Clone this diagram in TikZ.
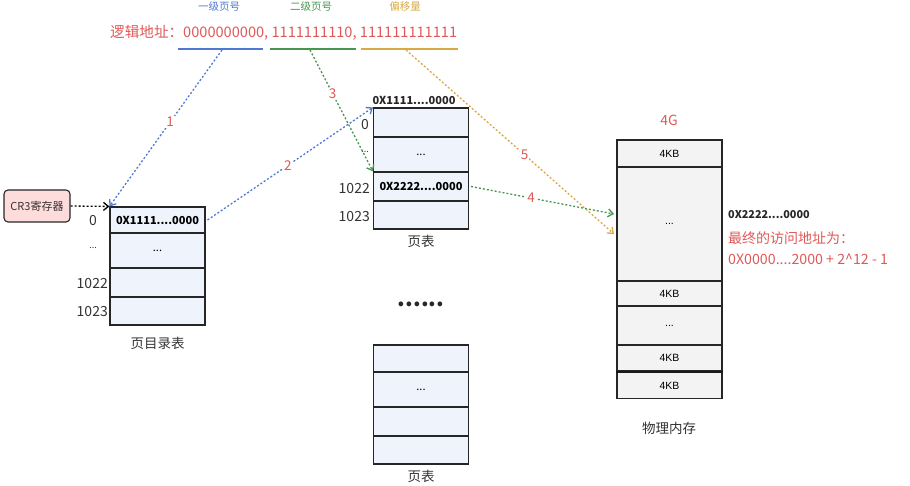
\documentclass[tikz,border=0pt]{standalone}
\usepackage{fontspec}
\setmainfont{Noto Sans CJK SC}
\newfontfamily\arialf{Liberation Sans}
\usetikzlibrary{arrows.meta}
\definecolor{cred}{RGB}{224,88,88}
\definecolor{cblue}{RGB}{80,120,210}
\definecolor{cgreen}{RGB}{70,150,80}
\definecolor{corange}{RGB}{215,170,70}
\definecolor{cellfill}{RGB}{238,243,252}
\definecolor{memfill}{RGB}{243,243,243}
\definecolor{crfill}{RGB}{255,220,220}
\tikzset{
  cell/.style={draw=black!85, line width=1.1pt, fill=cellfill, inner sep=0pt, minimum width=95pt, font=\fontsize{11}{13}\selectfont\bfseries},
  memcell/.style={draw=black!85, line width=1.1pt, fill=memfill, inner sep=0pt, minimum width=105pt, font=\arialf\fontsize{10.5}{12}\selectfont},
  rowlab/.style={anchor=east, inner sep=0pt, font=\fontsize{14}{16}\selectfont, text=black!80},
  captext/.style={font=\fontsize{13.5}{16}\selectfont, text=black!80},
  conn/.style={line width=1.3pt, dash pattern=on 2pt off 2pt, -{Straight Barb[length=5pt,width=8pt]}},
  numlab/.style={fill=white, inner sep=1pt, text=cred, font=\fontsize{13.5}{15}\selectfont},
}
\begin{document}
\begin{tikzpicture}[x=1pt,y=-1pt]
\useasboundingbox (0,0) rectangle (910,486);
% header text
\node[anchor=base west, inner sep=0pt, text=cred, font=\fontsize{14.6}{17}\selectfont] (addr) at (110,38) {逻辑地址：0000000000, 1111111110, 111111111111};
\node[text=cblue, font=\fontsize{10.5}{12}\selectfont] (h1) at (219,7) {一级页号};
\node[text=cgreen, font=\fontsize{10.5}{12}\selectfont] (h2) at (311,7) {二级页号};
\node[text=corange, font=\fontsize{10.5}{12}\selectfont] (h3) at (405,7) {偏移量};
\coordinate (u1a) at (178,49); \coordinate (u1b) at (263,49);
\coordinate (u2a) at (270,49); \coordinate (u2b) at (356,49);
\coordinate (u3a) at (361,49); \coordinate (u3b) at (458,49);
\draw[cblue, line width=1.2pt] (u1a) -- (u1b);
\draw[cgreen, line width=1.2pt] (u2a) -- (u2b);
\draw[corange, line width=1.2pt] (u3a) -- (u3b);
\coordinate (s1) at (222,50);
\coordinate (s3) at (310,50);
\coordinate (s5) at (406,50);
% CR3
\node[draw=black!85, line width=1.1pt, rounded corners=4pt, fill=crfill, minimum width=66pt, minimum height=32pt, inner sep=0pt, font=\fontsize{11}{13}\selectfont, text=black!80] (cr3) at (37,206) {CR3寄存器};
% page directory
\node[cell, minimum height=26pt] (pd0) at (157.5,220) {0X1111....0000};
\node[cell, minimum height=35pt] (pd1) at (157.5,250.5) {\mdseries ...};
\node[cell, minimum height=29pt] (pd2) at (157.5,282.5) {};
\node[cell, minimum height=28pt] (pd3) at (157.5,311) {};
\node[rowlab] (pdl0) at (97,221) {0};
\node[rowlab, font=\fontsize{9}{11}\selectfont] (pdl1) at (97,248) {...};
\node[rowlab] (pdl2) at (108,284) {1022};
\node[rowlab] (pdl3) at (108,312) {1023};
\node[captext] (pdcap) at (157.5,343) {页目录表};
% page table 1
\node[cell, minimum height=29pt] (pt0) at (421,122.5) {};
\node[cell, minimum height=35pt] (pt1) at (421,154.5) {\mdseries ...};
\node[cell, minimum height=29pt] (pt2) at (421,186.5) {0X2222....0000};
\node[cell, minimum height=28pt] (pt3) at (421,215) {};
\node[font=\fontsize{11}{13}\selectfont\bfseries, text=black!85] (pttop) at (414,100) {0X1111....0000};
\node[rowlab] (ptl0) at (369,125) {0};
\node[rowlab, font=\fontsize{9}{11}\selectfont] (ptl1) at (369,152) {...};
\node[rowlab] (ptl2) at (370,189) {1022};
\node[rowlab] (ptl3) at (370,217) {1023};
\node[captext] (ptcap) at (421,241) {页表};
% dots
\node[anchor=base, font=\fontsize{22}{24}\selectfont\bfseries, text=black!85] (dots) at (421,306) {......};
% page table 2
\node[cell, minimum height=27pt] (pq0) at (421,358.5) {};
\node[cell, minimum height=35pt] (pq1) at (421,389.5) {\mdseries ...};
\node[cell, minimum height=29pt] (pq2) at (421,421.5) {};
\node[cell, minimum height=28pt] (pq3) at (421,450) {};
\node[captext] (pqcap) at (421,476) {页表};
% memory
\node[text=cred, font=\fontsize{14}{16}\selectfont] (g4) at (669,120) {4G};
\node[memcell, minimum height=27pt] (m0) at (669.5,153.5) {4KB};
\node[memcell, minimum height=114pt] (m1) at (669.5,224) {...};
\node[memcell, minimum height=25pt] (m2) at (669.5,293.5) {4KB};
\node[memcell, minimum height=39pt] (m3) at (669.5,325.5) {...};
\node[memcell, minimum height=26pt] (m4) at (669.5,358) {4KB};
\node[memcell, minimum height=26pt, line width=1.1pt] (m5) at (669.5,385.5) {4KB};
\draw[line width=2.2pt, black!90] (m5.north west) -- (m5.north east);
\node[captext] (memcap) at (669,428) {物理内存};
\node[anchor=west, inner sep=0pt, font=\fontsize{10.8}{12}\selectfont\bfseries, text=black!85] (fa) at (728,215) {0X2222....0000};
\node[anchor=west, inner sep=0pt, text=cred, font=\fontsize{14}{16}\selectfont] (fb) at (728,238) {最终的访问地址为：};
\node[anchor=west, inner sep=0pt, text=cred, font=\fontsize{14.2}{16}\selectfont] (fc) at (728,259) {0X0000....2000 + 2\^{}12 - 1};
\coordinate (t4) at (614,214);
\coordinate (t5) at (614,234);
% connectors
\draw[conn, black] (cr3.east) -- (pd0.north west);
\draw[conn, cblue] (s1) -- node[numlab, pos=0.46] (n1) {1} (pd0.north west);
\draw[conn, cblue] ([xshift=2pt]pd0.east) -- node[numlab, pos=0.485] (n2) {2} (pt0.north west);
\draw[conn, cgreen] (s3) -- node[numlab, pos=0.36] (n3) {3} (pt2.north west);
\draw[conn, cgreen] ([xshift=2pt]pt2.east) -- node[numlab, pos=0.42] (n4) {4} (t4);
\draw[conn, corange] (s5) -- node[numlab, pos=0.57] (n5) {5} (t5);
\end{tikzpicture}
\end{document}
